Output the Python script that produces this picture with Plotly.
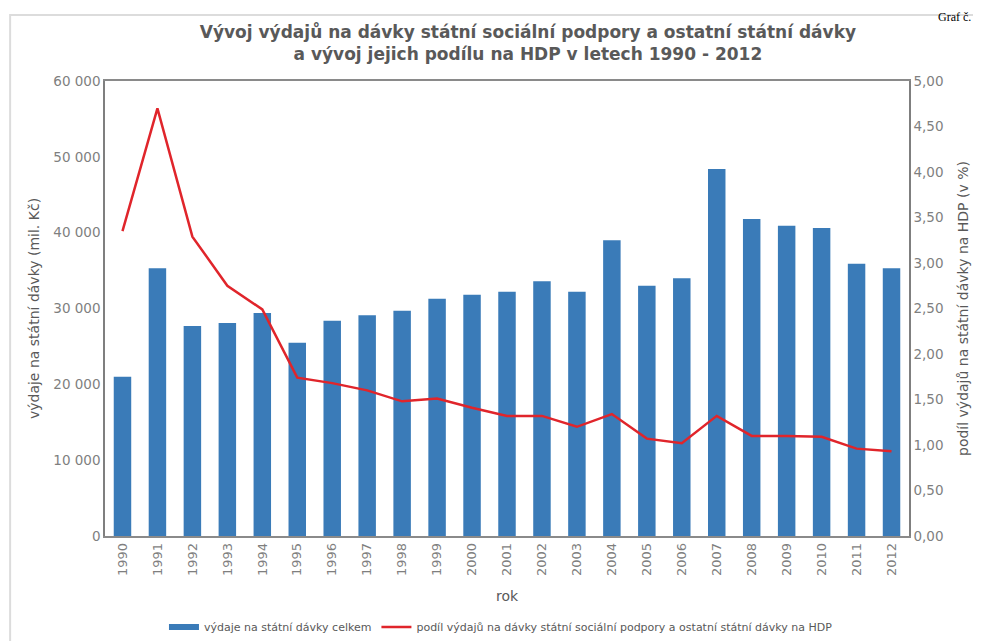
import plotly.graph_objects as go

years = [str(y) for y in range(1990, 2013)]
vydaje = [21000, 35300, 27700, 28100, 29400, 25500, 28400, 29100, 29700, 31300,
          31800, 32200, 33600, 32200, 39000, 33000, 34000, 48400, 41800, 40900,
          40600, 35900, 35300]
podil = [3.35, 4.70, 3.29, 2.75, 2.49, 1.74, 1.68, 1.60, 1.48, 1.51, 1.41, 1.32,
         1.32, 1.20, 1.34, 1.07, 1.02, 1.32, 1.10, 1.10, 1.09, 0.96, 0.93]
left_ticks = [0, 10000, 20000, 30000, 40000, 50000, 60000]
left_labels = ["0", "10 000", "20 000", "30 000", "40 000", "50 000", "60 000"]
right_ticks = [0, 0.5, 1, 1.5, 2, 2.5, 3, 3.5, 4, 4.5, 5]
right_labels = ["0,00", "0,50", "1,00", "1,50", "2,00", "2,50", "3,00", "3,50", "4,00", "4,50", "5,00"]

FONT = "DejaVu Sans"
GRAY = "#595959"
TICK = "#7f7f7f"
BLUE = "#3a7bb8"
RED = "#e0252b"

fig = go.Figure()
fig.add_trace(go.Bar(x=years, y=vydaje, name="výdaje na státní dávky celkem",
                     marker=dict(color=BLUE, line=dict(width=0)), yaxis="y", showlegend=False))
fig.add_trace(go.Scatter(x=[None], y=[None], mode="lines", name="výdaje na státní dávky celkem",
                         line=dict(color=BLUE, width=6), yaxis="y", hoverinfo="skip"))
fig.add_trace(go.Scatter(x=years, y=podil, mode="lines",
                         name="podíl výdajů na dávky státní sociální podpory a ostatní státní dávky na HDP",
                         line=dict(color=RED, width=2.5), yaxis="y2"))

fig.update_layout(
    width=973, height=633,
    margin=dict(l=97, r=72, t=73, b=105, autoexpand=False),
    paper_bgcolor="white", plot_bgcolor="white",
    font=dict(family=FONT, color=GRAY, size=12),
    title=dict(text="<b>Vývoj výdajů na dávky státní sociální podpory a ostatní státní dávky<br>a vývoj jejich podílu na HDP v letech 1990 - 2012</b>",
               xref="paper", x=0.526, xanchor="center", yref="container", y=0.952, yanchor="middle",
               font=dict(family=FONT, size=17, color=GRAY)),
    bargap=0.5,
    showlegend=True,
    legend=dict(orientation="h", x=0.4925, xanchor="center", y=-0.2, yanchor="middle",
                font=dict(size=11, color=GRAY), bgcolor="rgba(0,0,0,0)"),
    xaxis=dict(type="category", tickangle=-90, showline=True, linecolor="#8a8a8a", linewidth=1.5,
               mirror=True, ticks="", tickfont=dict(size=13, color=TICK),
               title=dict(text="rok", font=dict(size=14, color=GRAY), standoff=16)),
    yaxis=dict(range=[0, 60000], tickvals=left_ticks, ticktext=left_labels,
               showgrid=False, showline=True, linecolor="#7f7f7f", linewidth=1.5, ticks="",
               zeroline=False, tickfont=dict(size=13.5, color=TICK),
               title=dict(text="výdaje na státní dávky (mil. Kč)", font=dict(size=14, color=GRAY), standoff=10)),
    yaxis2=dict(range=[0, 5], tickvals=right_ticks, ticktext=right_labels, overlaying="y",
                side="right", showgrid=False, showline=True, linecolor="#7f7f7f", linewidth=1.5,
                ticks="", zeroline=False, tickfont=dict(size=13.5, color=TICK),
                title=dict(text="podíl výdajů na státní dávky na HDP (v %)", font=dict(size=14, color=GRAY), standoff=16)),
)

fig.add_shape(type="rect", xref="paper", yref="paper", x0=-0.118, x1=1.3, y0=-0.4, y1=1.145,
              line=dict(color="#dcdcdc", width=2), layer="below")
fig.add_annotation(text="Graf č.", xref="paper", yref="paper", x=1.08, y=1.16, xanchor="right",
                   yanchor="top", showarrow=False, font=dict(family="Liberation Serif", size=12, color="#000"))

fig.write_html("out.html")
